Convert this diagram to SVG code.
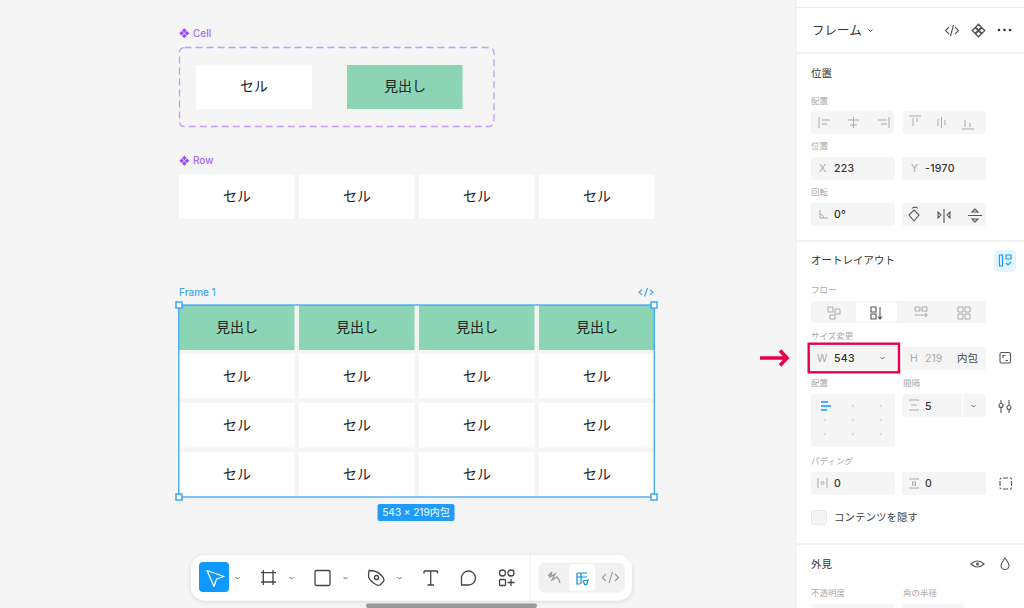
<svg xmlns="http://www.w3.org/2000/svg" width="1024" height="608" viewBox="0 0 1024 608">
<style>
text{font-family:"Inter","Noto Sans CJK JP","Liberation Sans",sans-serif}
.c{font-size:14px;fill:#222;text-anchor:middle;font-family:"Noto Sans CJK JP",sans-serif}
.w{fill:#fff}.g{fill:#8bd5b4}
.f{fill:#f5f5f5}
.h{font-size:10.500px;fill:#333;font-family:"Noto Sans CJK JP",sans-serif}
.l{font-size:8.500px;fill:#aaa;font-family:"Noto Sans CJK JP",sans-serif}
.v{font-size:10.500px;fill:#333;font-weight:500;letter-spacing:.3px}
.d{font-size:10.500px;fill:#aaa}
.i{fill:none;stroke:#555;stroke-width:1.100}
.il{fill:none;stroke:#aaa;stroke-width:1}
.t{fill:none;stroke:#444;stroke-width:1.300;stroke-linejoin:round}
.sel{fill:#fff;stroke:#3ea6f5;stroke-width:1.500}
.ch{fill:none;stroke:#666;stroke-width:1}
.p{fill:#9747ff}
.pt{font-size:10px;fill:#a56bf5;font-weight:500}
</style>
<defs>
<filter id="sh" x="-5%" y="-30%" width="110%" height="170%"><feDropShadow dx="0" dy="1" stdDeviation="2.500" flood-color="#000" flood-opacity=".12"/></filter>
<path id="comp" d="M0-5l2.300 2.300-2.300 2.300-2.300-2.300zM-2.700-2.300l2.300 2.300-2.300 2.300-2.300-2.300zM2.700-2.300l2.300 2.300-2.300 2.300-2.300-2.300zM0 .4l2.300 2.300-2.300 2.300-2.300-2.300z"/>
</defs>
<rect width="1024" height="608" fill="#f5f5f5"/>
<g id="cell-component">
<use href="#comp" class="p" x="184.300" y="33.300"/>
<text class="pt" x="193" y="37">Cell</text>
<rect x="179.500" y="47.500" width="314.500" height="79" rx="5" fill="none" stroke="#c29bff" stroke-width="1.300" stroke-dasharray="7 4"/>
<rect class="w" x="196" y="65" width="116" height="44"/><text class="c" x="254" y="91">セル</text>
<rect class="g" x="347" y="65" width="115.500" height="44"/><text class="c" x="405" y="91">見出し</text>
</g>
<g id="row-component">
<use href="#comp" class="p" x="184.300" y="160.700"/>
<text class="pt" x="193" y="164">Row</text>
<rect class="w" x="179" y="174.500" width="115.500" height="44.500"/><text class="c" x="237" y="201">セル</text>
<rect class="w" x="299" y="174.500" width="115.500" height="44.500"/><text class="c" x="357" y="201">セル</text>
<rect class="w" x="419" y="174.500" width="115.500" height="44.500"/><text class="c" x="477" y="201">セル</text>
<rect class="w" x="539" y="174.500" width="115.500" height="44.500"/><text class="c" x="597" y="201">セル</text>
</g>
<g id="frame-1">
<text x="179" y="296" font-size="10px" font-weight="500" fill="#3ea6f5">Frame 1</text>
<path d="M643 289.500l-3 2.700 3 2.700M651 289.500l3 2.700-3 2.700M648.500 288l-3 8.500" fill="none" stroke="#3ea6f5" stroke-width="1.200" transform="translate(-1 0)"/>
<rect class="g" x="179" y="305" width="115.500" height="45"/><text class="c" x="237" y="332">見出し</text>
<rect class="g" x="299" y="305" width="115.500" height="45"/><text class="c" x="357" y="332">見出し</text>
<rect class="g" x="419" y="305" width="115.500" height="45"/><text class="c" x="477" y="332">見出し</text>
<rect class="g" x="539" y="305" width="115.500" height="45"/><text class="c" x="597" y="332">見出し</text>
<rect class="w" x="179" y="354" width="115.500" height="44"/><text class="c" x="237" y="381">セル</text>
<rect class="w" x="299" y="354" width="115.500" height="44"/><text class="c" x="357" y="381">セル</text>
<rect class="w" x="419" y="354" width="115.500" height="44"/><text class="c" x="477" y="381">セル</text>
<rect class="w" x="539" y="354" width="115.500" height="44"/><text class="c" x="597" y="381">セル</text>
<rect class="w" x="179" y="403" width="115.500" height="44.500"/><text class="c" x="237" y="430">セル</text>
<rect class="w" x="299" y="403" width="115.500" height="44.500"/><text class="c" x="357" y="430">セル</text>
<rect class="w" x="419" y="403" width="115.500" height="44.500"/><text class="c" x="477" y="430">セル</text>
<rect class="w" x="539" y="403" width="115.500" height="44.500"/><text class="c" x="597" y="430">セル</text>
<rect class="w" x="179" y="452" width="115.500" height="45"/><text class="c" x="237" y="479">セル</text>
<rect class="w" x="299" y="452" width="115.500" height="45"/><text class="c" x="357" y="479">セル</text>
<rect class="w" x="419" y="452" width="115.500" height="45"/><text class="c" x="477" y="479">セル</text>
<rect class="w" x="539" y="452" width="115.500" height="45"/><text class="c" x="597" y="479">セル</text>
<rect x="178.800" y="305" width="475.500" height="192" fill="none" stroke="#3ea6f5" stroke-width="1.300"/>
<rect class="sel" x="176" y="302" width="6" height="6"/><rect class="sel" x="651" y="302" width="6" height="6"/>
<rect class="sel" x="176" y="494" width="6" height="6"/><rect class="sel" x="651" y="494" width="6" height="6"/>
<rect x="377.500" y="504" width="77" height="17" rx="2" fill="#1e9bfb"/>
<text x="416" y="516" font-size="10px" font-weight="500" fill="#e2f2ff" text-anchor="middle">543 × 219内包</text>
</g>
<g id="toolbar">
<rect x="366" y="603.500" width="171" height="4.500" rx="2" fill="#9a9a9a"/>
<rect x="191" y="555" width="441" height="45.500" rx="14" fill="#fff" filter="url(#sh)"/>
<rect x="199" y="562" width="30" height="30" rx="4" fill="#0d99ff"/>
<path d="M207 570.500l17 6-7.500 2.500-2.500 7.500z" fill="none" stroke="#fff" stroke-width="1.300" stroke-linejoin="round"/>
<path class="ch" d="M235.500 577l2 2 2-2M289.500 577l2 2 2-2M343.500 577l2 2 2-2M397.500 577l2 2 2-2"/>
<path class="t" d="M263.300 570v15M273 570v15M261 572.700h15M261 582h15"/>
<rect class="t" x="315" y="570.500" width="15" height="15" rx="1.500"/>
<path class="t" d="M369 570.500c5 0 9 1 12 4.500 3 3 3.500 5 2.500 6.500l-3.500 3.500c-2 1-4 0-6.500-2-3-2.500-5-5-5-7z"/><circle class="t" cx="376.500" cy="577.500" r="2"/>
<path class="t" d="M424 571h13.500M430.700 571v14M427.500 585h6.500M424 571v2.500M437.500 571v2.500"/>
<path class="t" d="M461.500 585v-6.500a7 7 0 1 1 7 6.500z"/>
<circle class="t" cx="502.500" cy="573" r="3"/><circle class="t" cx="511" cy="573" r="3"/><rect class="t" x="499.500" y="579.500" width="6" height="6" rx="1"/><path class="t" d="M511 579v7M507.500 582.500h7"/>
<line x1="530" y1="555" x2="530" y2="600.500" stroke="#ececec"/>
<rect x="538.500" y="562.700" width="86.500" height="30" rx="6" fill="#f1f1f1"/>
<rect x="569" y="564" width="26" height="27" rx="4" fill="#fff"/>
<path d="M548 576l4-4-2 5 5-3-3 6 5-3 2 3 1 3" fill="none" stroke="#999" stroke-width="1.300"/>
<path d="M577 573h10M577 573v11h3M577 577h10M581 573v11M583 581l5-1-1 4-2 1z" fill="none" stroke="#0d8ce9" stroke-width="1.200"/>
<path d="M606 574l-3.500 3.500 3.500 3.500M615 574l3.500 3.500-3.500 3.500M612.500 572l-3.500 11" fill="none" stroke="#999" stroke-width="1.100"/>
</g>
<g id="panel">
<rect x="796" width="228" height="608" fill="#fff"/>
<line x1="796" y1="0" x2="796" y2="608" stroke="#ebebeb"/>
<line x1="796" y1="7.500" x2="1024" y2="7.500" stroke="#eee"/>
<line x1="796" y1="53" x2="1024" y2="53" stroke="#e6e6e6"/>
<line x1="796" y1="241" x2="1024" y2="241" stroke="#e6e6e6"/>
<line x1="796" y1="544" x2="1024" y2="544" stroke="#e6e6e6"/>
<text x="812" y="35" font-size="12.500px" fill="#333" font-family="Noto Sans CJK JP,sans-serif">フレーム</text>
<path class="ch" d="M868.500 29.500l2 2 2-2"/>
<path class="i" d="M949 27l-3.500 3.500 3.500 3.500M955 27l3.500 3.500-3.500 3.500M953.500 25l-3 11"/>
<g transform="translate(978.500 30.500) scale(1.250)"><use href="#comp" class="i"/></g>
<circle cx="999" cy="30" r="1.300" fill="#333"/><circle cx="1004.500" cy="30" r="1.300" fill="#333"/><circle cx="1010" cy="30" r="1.300" fill="#333"/>

<text class="h" x="811" y="77">位置</text>
<text class="l" x="811" y="104">配置</text>
<rect class="f" x="811" y="111" width="83" height="23" rx="3"/><rect class="f" x="903" y="111" width="83" height="23" rx="3"/>
<path class="il" d="M819 117v11M822 120h8M822 124h5M853.500 117v11M848 120h11M850 125h7M889 117v11M878 120h9M881 124h6"/>
<path class="il" d="M909 116h12M913 118v8M917 118v4M941.500 117v11M938 119v7M945 120v5M962 129h12M965 120v7M970 123v4"/>
<text class="l" x="811" y="149">位置</text>
<rect class="f" x="811" y="157" width="84" height="23" rx="3"/><rect class="f" x="902" y="157" width="84" height="23" rx="3"/>
<text class="d" x="819" y="172">X</text><text class="v" x="834" y="172">223</text>
<text class="d" x="911" y="172">Y</text><text class="v" x="925" y="172">-1970</text>
<text class="l" x="811" y="195">回転</text>
<rect class="f" x="811" y="203" width="84" height="23" rx="3"/><rect class="f" x="902" y="203" width="84" height="23" rx="3"/>
<path class="il" d="M820 210v8h8M820 214a5 5 0 0 1 4 4"/><text class="v" x="834" y="218">0°</text>
<path class="i" d="M914 210l5 5-5 6-5-6zM912 208.500a4 4 0 0 1 6 0"/>
<path class="i" d="M944 209v14M938 212v6l3-3zM950 212v6l-3-3z"/>
<path class="i" d="M968 215.500h14M975 209l-3 3h6zM975 222l-3-3h6z"/>

<text class="h" x="811" y="264">オートレイアウト</text>
<rect x="994" y="250" width="22" height="22" rx="4" fill="#e5f4ff"/>
<path d="M999.500 255h3v11h-3zM1006 255h5v4h-5zM1006 263l2 2 3-3" fill="none" stroke="#0d99ff" stroke-width="1.100"/>
<text class="l" x="811" y="293">フロー</text>
<rect class="f" x="811" y="301" width="175" height="22" rx="4"/>
<rect x="856" y="302" width="41" height="20" rx="3" fill="#fff"/>
<path class="il" d="M828 307h5v5h-5zM835 309h5v5h-5zM830 315h5v4h-5z"/>
<path class="i" d="M871 307h5v5h-5zM871 314h5v5h-5zM880 307v12M878 316.500l2 2.500 2-2.500"/>
<path class="il" d="M915 307h5v4h-5zM922 307h5v4h-5zM915 315h12M925 313l2.500 2-2.500 2"/>
<path class="il" d="M958 307h5v5h-5zM965 307h5v5h-5zM958 314h5v5h-5zM965 314h5v5h-5z"/>
<text class="l" x="811" y="339">サイズ変更</text>
<rect class="f" x="809" y="346" width="90" height="26"/>
<text class="d" x="817" y="362">W</text><text class="v" x="834" y="362">543</text>
<path class="ch" d="M880.500 357l2 2 2-2"/>
<rect x="808.700" y="343.700" width="90.300" height="28.600" fill="none" stroke="#e6004d" stroke-width="2.400"/>
<rect class="f" x="902" y="347" width="84" height="23" rx="3"/>
<text class="d" x="910" y="362">H</text><text class="d" x="925" y="362">219</text>
<text x="957" y="362" font-size="10.500px" fill="#444" font-family="Noto Sans CJK JP,sans-serif">内包</text>
<rect class="i" x="1000" y="352.500" width="10.500" height="10.500" rx="1.500" stroke="#333"/>
<path class="i" d="M1003 358v-2.500h2.500M1008 360.500h-2.500"/>
<path d="M760 358h26M780 350.500l7 7.500-7 7.500" fill="none" stroke="#e6004d" stroke-width="3.600"/>
<text class="l" x="811" y="386">配置</text>
<text class="l" x="903" y="386">間隔</text>
<rect class="f" x="811" y="394" width="84" height="53" rx="3"/>
<path d="M821 402h7M821 406h10M821 410h6" stroke="#0d99ff" stroke-width="1.500"/>
<g fill="#aaa"><circle cx="853" cy="406" r=".7"/><circle cx="881" cy="406" r=".7"/><circle cx="825" cy="420" r=".7"/><circle cx="853" cy="420" r=".7"/><circle cx="881" cy="420" r=".7"/><circle cx="825" cy="434" r=".7"/><circle cx="853" cy="434" r=".7"/><circle cx="881" cy="434" r=".7"/></g>
<rect class="f" x="902" y="394" width="84" height="23" rx="3"/>
<line x1="962.500" y1="394" x2="962.500" y2="417" stroke="#fff"/>
<path class="il" d="M909 400h10M909 410h10M911 405h6"/>
<text class="v" x="925" y="410">5</text>
<path class="ch" d="M971.500 405l2 2 2-2"/>
<path class="i" d="M1001 400v3M1001 408v5M1009 400v5M1009 410v3"/><circle class="i" cx="1001" cy="405.500" r="2"/><circle class="i" cx="1009" cy="407.500" r="2"/>
<text class="l" x="811" y="464">パディング</text>
<rect class="f" x="811" y="472" width="84" height="23" rx="3"/><rect class="f" x="902" y="472" width="84" height="23" rx="3"/>
<path class="il" d="M818 478v10M827 478v10"/><circle class="il" cx="822.500" cy="483" r="1.500"/><text class="v" x="834" y="487">0</text>
<path class="il" d="M909 479h10M909 488h10"/><rect class="il" x="912.500" y="482" width="3" height="3"/><text class="v" x="925" y="487">0</text>
<path class="i" d="M1003 478h5M1003 489h5M1000 481v5M1011.500 481v5M1000 479.500a1.500 1.500 0 0 1 1.500-1.500M1010 478a1.500 1.500 0 0 1 1.500 1.500M1011.500 487.500a1.500 1.500 0 0 1-1.500 1.500M1001.500 489a1.500 1.500 0 0 1-1.500-1.500"/>
<rect x="811.500" y="510.500" width="15" height="14" rx="3" fill="#f5f5f5" stroke="#e6e6e6"/>
<text x="834" y="521" font-size="10.500px" fill="#444" font-family="Noto Sans CJK JP,sans-serif">コンテンツを隠す</text>
<text class="h" x="811" y="568">外見</text>
<path class="i" d="M971 564q6.500-6 13 0q-6.500 6-13 0z"/><circle cx="977.500" cy="564" r="1.500" fill="#555"/>
<path class="i" d="M1005 558c-2 3-4 5-4 7.500a4 4 0 0 0 8 0c0-2.500-2-4.500-4-7.500z"/>
<text class="l" x="811" y="596">不透明度</text>
<text class="l" x="903" y="596">角の半径</text>
<rect class="f" x="811" y="604" width="84" height="6" rx="2"/><rect class="f" x="902" y="604" width="62" height="6" rx="2"/>
</g>
</svg>
